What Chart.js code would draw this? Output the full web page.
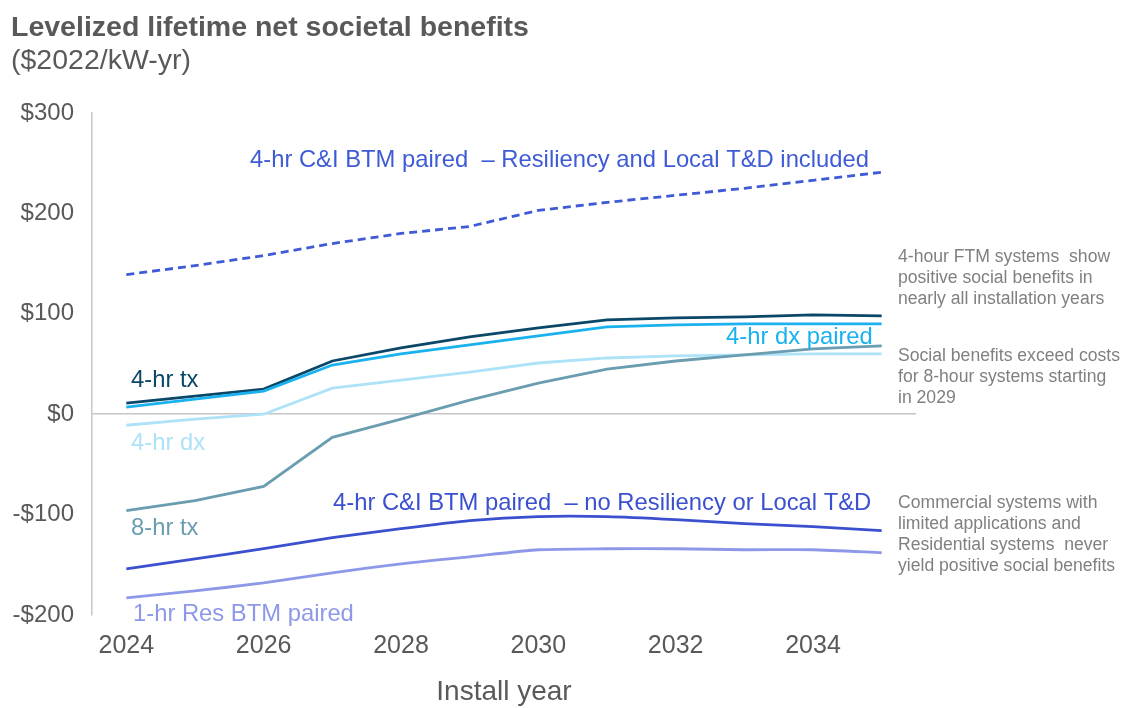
<!DOCTYPE html>
<html><head><meta charset="utf-8">
<script src="https://cdn.jsdelivr.net/npm/chart.js@4/dist/chart.umd.min.js"></script>
<style>html,body{margin:0;padding:0;background:#fff}#wrap{width:1125px;height:708px;position:relative}</style>
</head><body><div id="wrap"><canvas id="c" width="1125" height="708"></canvas></div>
<script>
const years = [2024,2025,2026,2027,2028,2029,2030,2031,2032,2033,2034,2035];
const tickYears = [2024,2026,2028,2030,2032,2034];
const yTicks = [-200,-100,0,100,200,300];
const ciResil = [139,148,158,170,180,187,203,211,218,225,233,241];
const tx4 = [11,18,25,53,66,77,86,94,96,97,99,98];
const dxPaired4 = [7,15,23,49,60,69,78,87,89,90,90,90];
const dx4 = [-11,-5,0,26,34,42,51,56,58,59,60,60];
const tx8 = [-96,-86,-72,-23,-5,14,31,45,53,59,65,68];
const ciNoResil = [-154,-144,-134,-123,-114,-106,-102,-102,-105,-109,-112,-116];
const res1 = [-183,-176,-168,-158,-149,-142,-135,-134,-134,-135,-135,-138];

const seriesNames = ['4-hr C&I BTM paired  \u2013 Resiliency and Local T&D included','4-hr tx','4-hr dx paired','4-hr dx','8-hr tx','4-hr C&I BTM paired  \u2013 no Resiliency or Local T&D','1-hr Res BTM paired'];
const seriesColors = ['#3E5BD5','#0B4868','#19B2EE','#AEE2F8','#6A9DB0','#3A50CF','#8D99E8'];
const noteLines = [
  ['4-hour FTM systems  show','positive social benefits in','nearly all installation years'],
  ['Social benefits exceed costs','for 8-hour systems starting','in 2029'],
  ['Commercial systems with','limited applications and','Residential systems  never','yield positive social benefits']
];

const FONT = '"Liberation Sans", Arial, sans-serif';

const ds = (label, data, color, extra) => Object.assign({
  label, data, borderColor: color, backgroundColor: color, borderWidth: 2.8,
  pointRadius: 0, tension: 0, fill: false
}, extra || {});

const overlay = {
  id: 'overlay',
  afterDraw(chart) {
    const c = chart.ctx;
    c.save();
    c.textBaseline = 'middle';
    c.textAlign = 'left';
    c.fillStyle = '#595959';
    c.font = 'bold 28.5px ' + FONT;
    c.fillText('Levelized lifetime net societal benefits', 11, 28);
    c.font = '28.5px ' + FONT;
    c.fillText('($2022/kW-yr)', 11, 61);
    c.textAlign = 'center';
    c.font = '28px ' + FONT;
    const a = chart.chartArea;
    c.fillText('Install year', (a.left + a.right) / 2, 692);
    // series labels
    c.textAlign = 'left';
    c.font = '23.8px ' + FONT;
    const lab = [[0,250,160],[1,131,380],[2,726,337],[3,131,443],[4,131,528],[5,333,503],[6,133,614]];
    lab.forEach(([i,x,y]) => { c.fillStyle = seriesColors[i]; c.fillText(seriesNames[i], x, y); });
    // notes
    c.fillStyle = '#808080';
    c.font = '17.6px ' + FONT;
    const starts = [257, 356, 503];
    noteLines.forEach((lines, k) => lines.forEach((t, j) => c.fillText(t, 898, starts[k] + j * 21)));
    c.restore();
  }
};

new Chart(document.getElementById('c'), {
  type: 'line',
  data: {
    labels: years,
    datasets: [
      ds(seriesNames[0], ciResil, seriesColors[0], {borderDash: [8,5]}),
      ds(seriesNames[4], tx8, seriesColors[4]),
      ds(seriesNames[3], dx4, seriesColors[3]),
      ds(seriesNames[2], dxPaired4, seriesColors[2]),
      ds(seriesNames[1], tx4, seriesColors[1]),
      ds(seriesNames[6], res1, seriesColors[6], {tension: 0.2}),
      ds(seriesNames[5], ciNoResil, seriesColors[5], {tension: 0.2})
    ]
  },
  options: {
    responsive: false, animation: false,
    layout: { padding: { left: 0, right: 209, top: 113, bottom: 0 } },
    plugins: { legend: { display: false }, tooltip: { enabled: false }, title: { display: false } },
    scales: {
      x: {
        type: 'category', offset: true,
        grid: { display: false, drawTicks: false },
        border: { display: false },
        ticks: {
          autoSkip: false, maxRotation: 0, padding: 16,
          color: '#595959', font: { family: FONT, size: 25 },
          callback: function(v, i) { const y = this.getLabelForValue(v); return tickYears.includes(Number(y)) ? String(y) : ''; }
        },
        afterFit(s) { s.height = 93; }
      },
      y: {
        min: -200, max: 300,
        afterBuildTicks(s) { s.ticks = yTicks.map(v => ({ value: v })); },
        grid: { drawTicks: false, lineWidth: 1.5, color: ctx => ctx.tick && ctx.tick.value === 0 ? '#C6C6C6' : 'rgba(0,0,0,0)' },
        border: { display: true, color: '#C6C6C6', width: 1.5 },
        ticks: {
          padding: 18, color: '#595959', font: { family: FONT, size: 24 },
          callback: v => (v < 0 ? '-$' : '$') + Math.abs(v)
        },
        afterFit(s) { s.width = 92; }
      }
    }
  },
  plugins: [overlay]
});
</script></body></html>
